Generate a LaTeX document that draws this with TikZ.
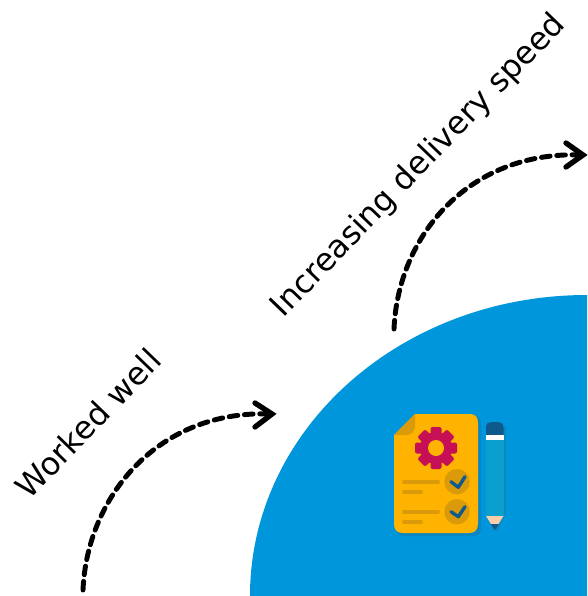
\documentclass[tikz,border=0pt]{standalone}
\usepackage{fontspec}
\setmainfont{DejaVu Sans}
\definecolor{blueblob}{HTML}{0096DB}
\definecolor{docy}{HTML}{FDB300}
\definecolor{docd}{HTML}{DB9A0A}
\definecolor{gear}{HTML}{C70F55}
\definecolor{navy}{HTML}{0F5A8C}
\definecolor{pen}{HTML}{0A9FCC}
\definecolor{shadow}{HTML}{0A86C2}
\definecolor{tip}{HTML}{F6CFA8}
\tikzset{
  dashcurve/.style={line width=3.7pt,dash pattern=on 6.5pt off 5pt,line cap=round},
  headline/.style={line width=4pt,line cap=round,line join=miter},
  rotlabel/.style={font=\fontsize{23.8}{29}\selectfont,anchor=center,inner sep=0pt},
  rule/.style={docd,line width=3pt,line cap=round},
  tick/.style={navy,line width=2.5pt,line cap=round,line join=round}
}
\begin{document}
\begin{tikzpicture}[x=0.75pt,y=-0.75pt]
\useasboundingbox (0,0) rectangle (587,596);
% blob
\fill[blueblob] (250,596) .. controls (250,430) and (400,295) .. (587,295) -- (587,596) -- cycle;
% arrows
\coordinate (a1s) at (83,590);
\coordinate (a1e) at (272,414);
\coordinate (a2s) at (394,329);
\coordinate (a2e) at (583,155);
\draw[dashcurve] (a1s) .. controls (87,496) and (159,409) .. (a1e);
\draw[headline] (255,403) -- (a1e) -- (255,427);
\draw[dashcurve] (a2s) .. controls (398,235) and (470,150) .. (a2e);
\draw[headline] (566,143) -- (a2e) -- (566,167);
% labels
\node[rotlabel,rotate=46] (t1) at (88,423.5) {Worked well};
\node[rotlabel,rotate=46] (t2) at (419,166) {Increasing delivery speed};
% document
\fill[shadow] (396,436) -- (416,416) -- (474,416) .. controls (480,416) and (481,420) .. (481,425) -- (481,527) .. controls (481,534) and (478,536) .. (472,536) -- (404,536) .. controls (398,536) and (396,533) .. (396,527) -- cycle;
\fill[docy] (394,435) -- (415,414) -- (470,414) .. controls (476,414) and (478,418) .. (478,423) -- (478,523) .. controls (478,530) and (475,533) .. (469,533) -- (403,533) .. controls (397,533) and (394,530) .. (394,524) -- cycle;
\fill[docd] (394,435) -- (415,414) -- (415,426) .. controls (415,432) and (411,435) .. (405,435) -- cycle;
% gear
\foreach \a in {0,45,...,315}{
  \fill[gear,rounded corners=1.5pt,rotate around={\a:(436,448)}] (430.5,427) rectangle (441.5,440);
}
\fill[gear] (436,448) circle (16);
\fill[docy] (436,448) circle (8);
% check circles
\fill[docd] (457,481.7) circle (12.7);
\fill[docd] (457,511.7) circle (12.7);
\draw[tick] (451,481.7) -- (458.3,487.3) -- (465,476.7);
\draw[tick] (451,511.7) -- (458.3,516.7) -- (465,506.7);
% text rules
\draw[rule] (404,481.7) -- (438,481.7);
\draw[rule] (404,492) -- (421,492);
\draw[rule] (404,511.5) -- (438,511.5);
\draw[rule] (404,522) -- (421,522);
% pencil
\fill[shadow] (490,426) rectangle (506,512);
\fill[shadow] (490,512) -- (506,512) -- (497,532) -- cycle;
\fill[pen] (486,438) rectangle (503.5,516);
\fill[navy] (486,436) -- (486,428) .. controls (486,424) and (488,422) .. (491,422) -- (498.5,422) .. controls (501.5,422) and (503.5,424) .. (503.5,428) -- (503.5,436) -- cycle;
\fill[white] (486,435) rectangle (503.5,440);
\fill[tip] (486,516) -- (503.5,516) -- (494.75,530) -- cycle;
\fill[navy] (490.5,524) -- (499,524) -- (494.75,530.5) -- cycle;
\end{tikzpicture}
\end{document}
